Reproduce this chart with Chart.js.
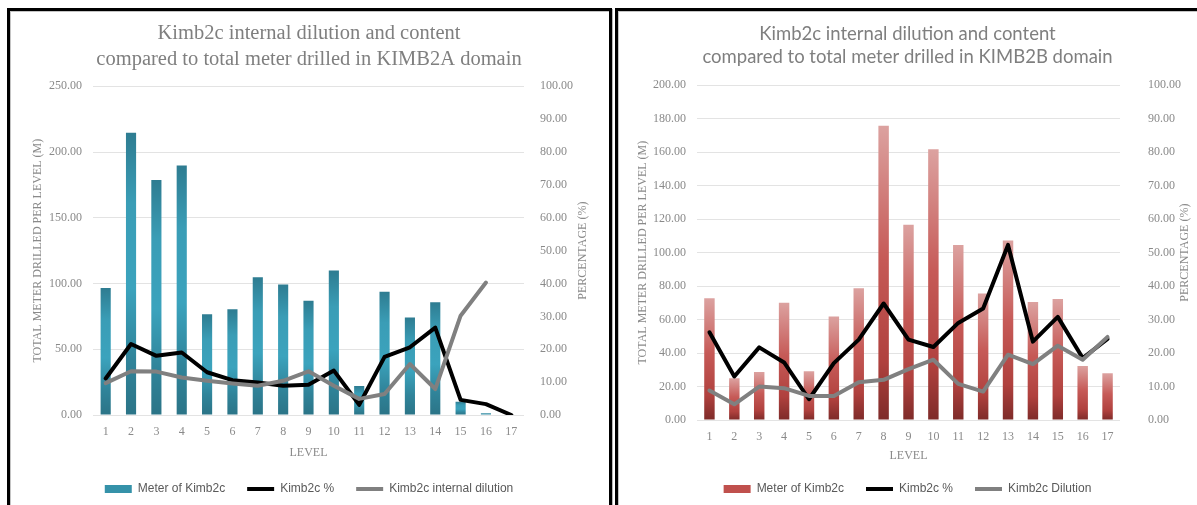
<!DOCTYPE html>
<html>
<head>
<meta charset="utf-8">
<script src="https://cdn.jsdelivr.net/npm/chart.js@4/dist/chart.umd.min.js"></script>
<style>
  html, body { margin: 0; padding: 0; background: #fff; width: 1197px; height: 505px; overflow: hidden; }
  .panel {
    position: absolute; border: 3px solid #000; background: #fff; box-sizing: border-box;
    box-shadow: 1px 1px 0 #b8b8b8, inset 1px 1px 0 #c4c4c4;
  }
  #panelA { left: 7px; top: 8px; width: 605px; height: 530px; }
  #panelB { left: 615px; top: 8px; width: 700px; height: 530px; }
  canvas { position: absolute; }
  #chartA { left: 10px; top: 11px; }
  #chartB { left: 618px; top: 11px; }
</style>
</head>
<body>
<div class="panel" id="panelA"></div>
<div class="panel" id="panelB"></div>
<canvas id="chartA" width="598" height="494" style="width:598px;height:494px"></canvas>
<canvas id="chartB" width="579" height="494" style="width:579px;height:494px"></canvas>
<script>
// Levels along the horizontal axis
const levels = ['1', '2', '3', '4', '5', '6', '7', '8', '9', '10', '11', '12', '13', '14', '15', '16', '17'];

// KIMB2A domain
const titleA = ['Kimb2c internal dilution and content', 'compared to total meter drilled in KIMB2A domain'];
const metersA = [96.5, 214.6, 178.8, 189.7, 76.7, 80.5, 104.8, 99.2, 86.8, 109.8, 22.0, 93.7, 74.2, 85.8, 10.1, 1.3, 0];
const contentA = [11.1, 21.6, 18.0, 19.0, 13.0, 10.6, 9.9, 8.9, 9.2, 13.5, 3.1, 17.7, 20.6, 26.6, 4.6, 3.3, 0];
const dilutionA = [9.7, 13.3, 13.2, 11.4, 10.4, 9.6, 8.9, 10.4, 13.3, 8.9, 4.9, 6.4, 15.5, 7.9, 30.2, 40.3, null];
const legendA = ['Meter of Kimb2c', 'Kimb2c %', 'Kimb2c internal dilution'];

// KIMB2B domain
const titleB = ['Kimb2c internal dilution and content', 'compared to total meter drilled in KIMB2B domain'];
const metersB = [72.7, 24.9, 28.7, 70.1, 29.1, 61.8, 78.7, 175.8, 116.6, 161.8, 104.6, 75.6, 107.2, 70.5, 72.3, 32.3, 27.9];
const contentB = [26.2, 13.0, 21.7, 17.2, 6.2, 17.0, 24.0, 34.8, 24.0, 21.8, 29.0, 33.3, 52.3, 23.4, 30.8, 18.5, 24.2];
const dilutionB = [8.8, 4.7, 10.0, 9.5, 7.2, 7.2, 11.3, 12.0, 15.2, 18.0, 10.8, 8.5, 19.5, 16.7, 22.2, 18.0, 24.8];
const legendB = ['Meter of Kimb2c', 'Kimb2c %', 'Kimb2c Dilution'];

// Axis captions
const leftAxisTitle = 'TOTAL METER DRILLED PER LEVEL (M)';
const rightAxisTitle = 'PERCENTAGE (%)';
const bottomAxisTitle = 'LEVEL';

const SERIF = '"Liberation Serif", "Times New Roman", serif';
const SANS = '"Liberation Sans", Arial, sans-serif';
const TICK_COLOR = '#8a8a8a';

// Vertical gradient painted along each bar, from its top down to the baseline
function barGradient(stops, fallback) {
  return (ctx) => {
    const chart = ctx.chart;
    if (!chart.chartArea || ctx.type !== 'data') return fallback;
    const ys = chart.scales.y;
    const top = ys.getPixelForValue(ctx.raw);
    const bottom = ys.getPixelForValue(0);
    if (!isFinite(top) || bottom - top < 1) return fallback;
    const g = chart.ctx.createLinearGradient(0, top, 0, bottom);
    stops.forEach(([o, c]) => g.addColorStop(o, c));
    return g;
  };
}

// Rotated caption beside the right-hand axis, reading upward
const rightCaption = {
  id: 'rightCaption',
  afterDraw(chart, args, opts) {
    const { ctx, chartArea } = chart;
    ctx.save();
    ctx.translate(opts.x, (chartArea.top + chartArea.bottom) / 2);
    ctx.rotate(-Math.PI / 2);
    ctx.font = '12px ' + SERIF;
    ctx.fillStyle = TICK_COLOR;
    ctx.textAlign = 'center';
    ctx.textBaseline = 'middle';
    ctx.fillText(opts.text, 0, 0);
    ctx.restore();
  }
};

function makeChart(canvasId, cfg) {
  const datasets = [
    {
      type: 'bar', label: cfg.legend[0], data: cfg.meters, yAxisID: 'y', order: 3,
      backgroundColor: barGradient(cfg.stops, cfg.swatch),
      categoryPercentage: 1, barPercentage: cfg.barPct, borderWidth: 0
    },
    {
      type: 'line', label: cfg.legend[1], data: cfg.content, yAxisID: 'y1', order: 2,
      borderColor: '#000000', backgroundColor: '#000000', borderWidth: 4,
      pointRadius: 0, tension: 0, borderJoinStyle: 'round', borderCapStyle: 'round'
    },
    {
      type: 'line', label: cfg.legend[2], data: cfg.dilution, yAxisID: 'y1', order: 1,
      borderColor: '#808080', backgroundColor: '#808080', borderWidth: 4,
      pointRadius: 0, tension: 0, borderJoinStyle: 'round', borderCapStyle: 'round'
    }
  ];

  return new Chart(document.getElementById(canvasId), {
    data: { labels: levels, datasets },
    plugins: [rightCaption],
    options: {
      responsive: false,
      animation: false,
      layout: { padding: { top: 0, left: 0, right: 0, bottom: cfg.padBottom } },
      plugins: {
        tooltip: { enabled: false },
        title: {
          display: true, text: cfg.title, color: '#7f7f7f',
          font: cfg.titleFont,
          padding: { top: cfg.titlePadTop, bottom: cfg.titlePadBottom }
        },
        legend: {
          position: 'bottom',
          labels: {
            sort: (a, b) => a.datasetIndex - b.datasetIndex,
            usePointStyle: true, pointStyleWidth: 27, boxHeight: 8, padding: 22,
            color: '#595959', font: { family: SANS, size: 12 },
            generateLabels(chart) {
              const items = Chart.defaults.plugins.legend.labels.generateLabels(chart);
              items.forEach((it) => {
                const ds = chart.data.datasets[it.datasetIndex];
                if (ds.type === 'bar') {
                  it.pointStyle = 'rect';
                  it.fillStyle = cfg.swatch;
                  it.strokeStyle = cfg.swatch;
                  it.lineWidth = 0;
                } else {
                  it.pointStyle = 'line';
                  it.strokeStyle = ds.borderColor;
                  it.lineWidth = 4;
                }
              });
              return items;
            }
          }
        },
        rightCaption: { text: rightAxisTitle, x: cfg.rightCaptionX }
      },
      scales: {
        x: {
          type: 'category', offset: true,
          grid: { display: false, drawTicks: false },
          border: { display: false },
          ticks: { color: TICK_COLOR, font: { family: SERIF, size: 12 }, padding: 10, maxRotation: 0 },
          title: {
            display: true, text: bottomAxisTitle, color: TICK_COLOR,
            font: { family: SERIF, size: 12 }, padding: { top: 0, bottom: cfg.levelPad }
          },
          afterFit(scale) { scale.height = cfg.xHeight; }
        },
        y: {
          position: 'left', min: 0, max: cfg.leftMax,
          grid: { color: '#e3e3e3', lineWidth: 1, drawTicks: false },
          border: { display: false },
          ticks: {
            stepSize: cfg.leftStep, padding: 11, color: TICK_COLOR,
            font: { family: SERIF, size: 12 },
            callback: (v) => Number(v).toFixed(2)
          },
          title: {
            display: true, text: leftAxisTitle, color: TICK_COLOR,
            font: { family: SERIF, size: 12 }, padding: { top: cfg.leftTitlePad, bottom: 0 }
          },
          afterFit(scale) { scale.width = cfg.leftWidth; }
        },
        y1: {
          position: 'right', min: 0, max: 100,
          grid: { display: false, drawTicks: false },
          border: { display: false },
          ticks: {
            stepSize: 10, padding: cfg.rightTickPad, color: TICK_COLOR,
            font: { family: SERIF, size: 12 },
            callback: (v) => Number(v).toFixed(2)
          },
          afterFit(scale) { scale.width = cfg.rightWidth; }
        }
      }
    }
  });
}

makeChart('chartA', {
  title: titleA, legend: legendA,
  meters: metersA, content: contentA, dilution: dilutionA,
  titleFont: { family: SERIF, size: 20.5, weight: 'normal', lineHeight: 1.25 },
  titlePadTop: 10, titlePadBottom: 14,
  stops: [[0, '#2e7c91'], [0.25, '#3a9db6'], [0.55, '#3ba3bd'], [0.8, '#30849a'], [1, '#2b7487']],
  swatch: '#3592a9', barPct: 0.4,
  leftMax: 250, leftStep: 50,
  leftWidth: 83, rightWidth: 84, rightTickPad: 16, leftTitlePad: 21,
  xHeight: 46, levelPad: 1, padBottom: 0, rightCaptionX: 573
});

makeChart('chartB', {
  title: titleB, legend: legendB,
  meters: metersB, content: contentB, dilution: dilutionB,
  titleFont: { family: 'Lato, "Open Sans", sans-serif', size: 18.5, weight: 'normal', lineHeight: 1.25 },
  titlePadTop: 11, titlePadBottom: 17,
  stops: [[0, '#dca2a0'], [0.45, '#c65a57'], [0.8, '#b0413e'], [1, '#7e2b29']],
  swatch: '#c0504d', barPct: 0.42,
  leftMax: 200, leftStep: 20,
  leftWidth: 79, rightWidth: 77, rightTickPad: 28, leftTitlePad: 18,
  xHeight: 41, levelPad: -2, padBottom: 0, rightCaptionX: 567
});
</script>
</body>
</html>
